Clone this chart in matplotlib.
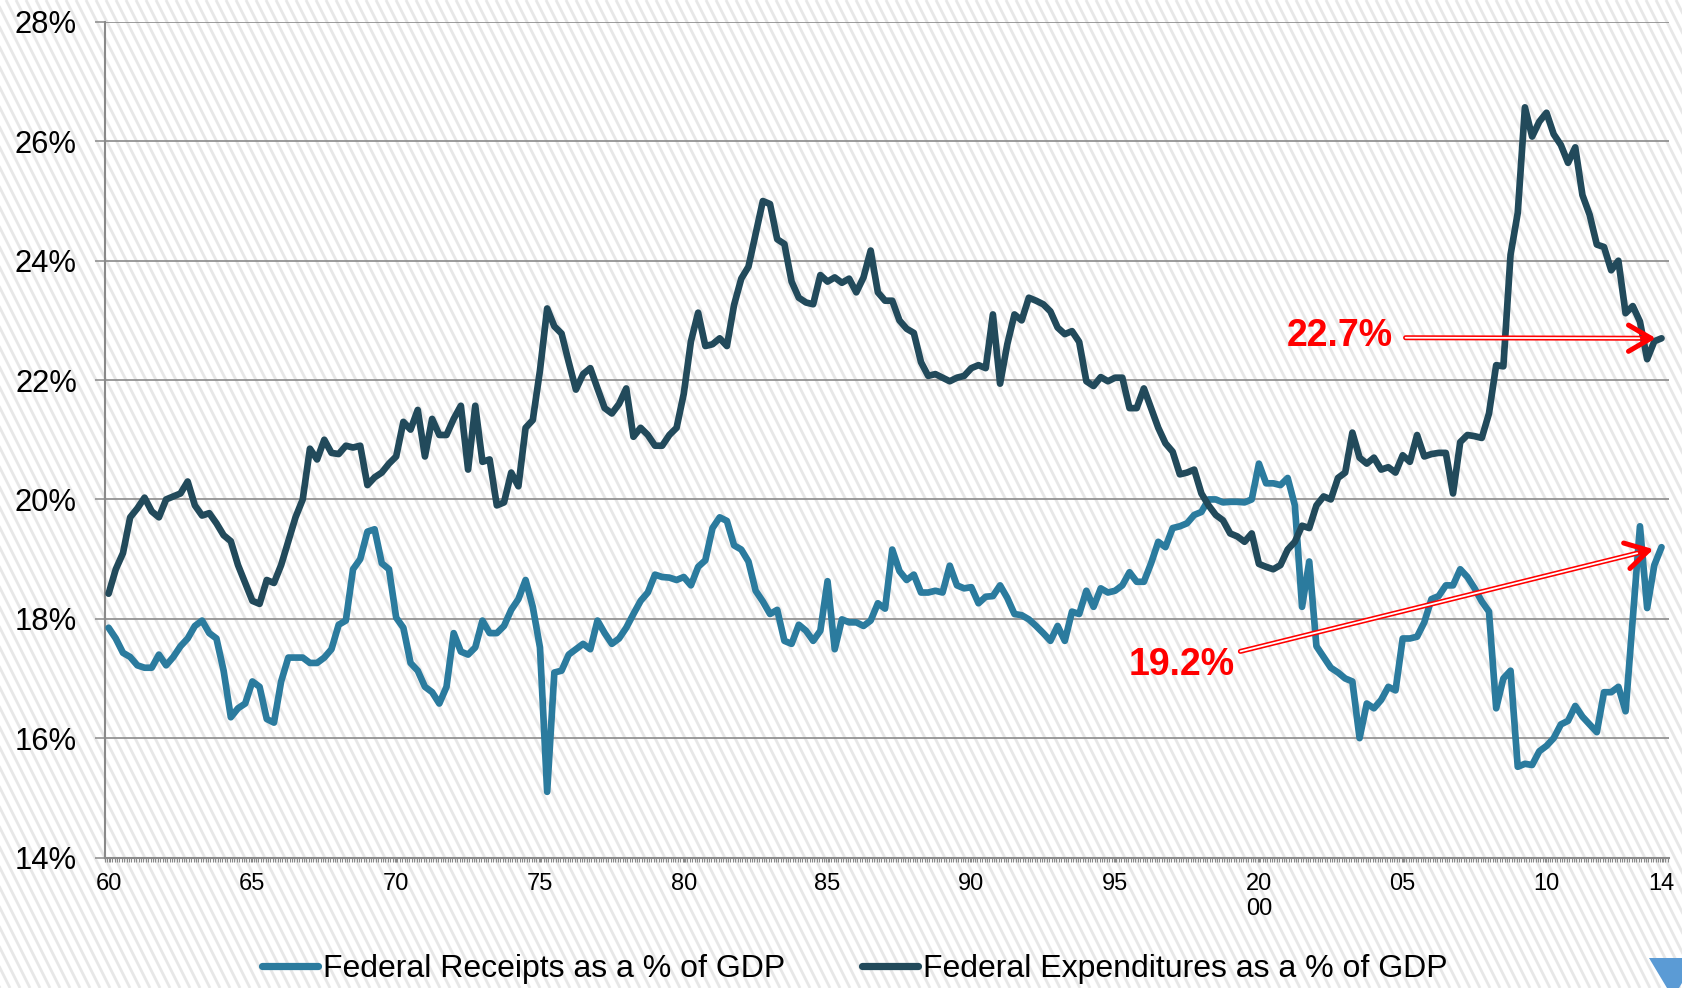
import numpy as np
import matplotlib.pyplot as plt
from matplotlib.collections import LineCollection
from matplotlib.lines import Line2D
from matplotlib.patches import Polygon
from matplotlib.ticker import FixedLocator, FuncFormatter

plt.rcParams['font.family'] = ['Liberation Sans', 'DejaVu Sans']

# quarterly series, 1960Q1 .. 2014Q1 (% of GDP)
receipts = [
    17.85, 17.67, 17.43, 17.36,  # 1960
    17.22, 17.18, 17.18, 17.40,
    17.22, 17.36, 17.54, 17.67,
    17.88, 17.97, 17.76, 17.67,
    17.13, 16.35, 16.50, 16.58,
    16.95, 16.86, 16.32, 16.26,  # 1965
    16.95, 17.35, 17.35, 17.35,
    17.26, 17.26, 17.35, 17.49,
    17.90, 17.97, 18.83, 19.00,
    19.46, 19.50, 18.93, 18.83,
    18.02, 17.85, 17.26, 17.13,  # 1970
    16.86, 16.77, 16.58, 16.86,
    17.76, 17.45, 17.40, 17.52,
    17.97, 17.76, 17.76, 17.88,
    18.15, 18.33, 18.65, 18.20,
    17.52, 15.10, 17.10, 17.13,  # 1975
    17.40, 17.49, 17.58, 17.49,
    17.97, 17.76, 17.58, 17.67,
    17.85, 18.08, 18.30, 18.44,
    18.74, 18.70, 18.69, 18.65,
    18.70, 18.56, 18.87, 18.98,  # 1980
    19.52, 19.70, 19.64, 19.23,
    19.16, 18.96, 18.47, 18.29,
    18.08, 18.15, 17.63, 17.58,
    17.90, 17.80, 17.63, 17.80,
    18.63, 17.49, 17.99, 17.94,  # 1985
    17.94, 17.88, 17.97, 18.26,
    18.17, 19.16, 18.80, 18.65,
    18.74, 18.44, 18.44, 18.47,
    18.44, 18.89, 18.56, 18.51,
    18.53, 18.26, 18.37, 18.38,  # 1990
    18.56, 18.35, 18.08, 18.06,
    17.99, 17.88, 17.76, 17.63,
    17.88, 17.63, 18.12, 18.08,
    18.47, 18.20, 18.51, 18.44,
    18.47, 18.56, 18.78, 18.62,  # 1995
    18.62, 18.93, 19.29, 19.20,
    19.52, 19.55, 19.60, 19.74,
    19.79, 20.00, 20.00, 19.95,
    19.96, 19.96, 19.95, 20.00,
    20.60, 20.27, 20.27, 20.24,  # 2000
    20.36, 19.90, 18.20, 18.96,
    17.54, 17.36, 17.18, 17.10,
    17.00, 16.95, 16.00, 16.58,
    16.50, 16.64, 16.86, 16.80,
    17.67, 17.67, 17.70, 17.94,  # 2005
    18.33, 18.38, 18.56, 18.56,
    18.83, 18.70, 18.51, 18.29,
    18.12, 16.50, 17.00, 17.13,
    15.52, 15.57, 15.55, 15.78,
    15.87, 16.00, 16.23, 16.29,  # 2010
    16.54, 16.36, 16.23, 16.10,
    16.77, 16.77, 16.86, 16.45,
    18.00, 19.55, 18.18, 18.90,
    19.20,                       # 2014
]

expenditures = [
    18.42, 18.83, 19.10, 19.70,  # 1960
    19.85, 20.03, 19.80, 19.70,
    20.00, 20.05, 20.10, 20.30,
    19.90, 19.73, 19.77, 19.60,
    19.40, 19.30, 18.90, 18.60,
    18.30, 18.25, 18.65, 18.60,  # 1965
    18.90, 19.30, 19.70, 20.00,
    20.85, 20.67, 21.00, 20.78,
    20.76, 20.90, 20.87, 20.90,
    20.24, 20.37, 20.45, 20.60,
    20.72, 21.30, 21.17, 21.50,  # 1970
    20.72, 21.35, 21.08, 21.08,
    21.35, 21.57, 20.50, 21.57,
    20.63, 20.67, 19.90, 19.95,
    20.45, 20.22, 21.20, 21.33,
    22.16, 23.20, 22.90, 22.78,  # 1975
    22.30, 21.84, 22.10, 22.20,
    21.86, 21.53, 21.44, 21.60,
    21.86, 21.05, 21.20, 21.08,
    20.90, 20.90, 21.08, 21.20,
    21.77, 22.65, 23.13, 22.57,  # 1980
    22.60, 22.70, 22.57, 23.26,
    23.70, 23.90, 24.45, 25.00,
    24.95, 24.36, 24.28, 23.65,
    23.38, 23.30, 23.27, 23.76,
    23.65, 23.72, 23.63, 23.70,  # 1985
    23.47, 23.72, 24.17, 23.47,
    23.33, 23.33, 23.00, 22.86,
    22.79, 22.30, 22.07, 22.10,
    22.04, 21.98, 22.04, 22.07,
    22.20, 22.25, 22.20, 23.10,  # 1990
    21.94, 22.60, 23.10, 23.00,
    23.38, 23.33, 23.27, 23.15,
    22.88, 22.77, 22.82, 22.64,
    21.98, 21.90, 22.05, 21.98,
    22.04, 22.04, 21.53, 21.53,  # 1995
    21.86, 21.53, 21.20, 20.94,
    20.80, 20.42, 20.45, 20.50,
    20.10, 19.90, 19.74, 19.65,
    19.43, 19.38, 19.29, 19.43,
    18.92, 18.87, 18.83, 18.90,  # 2000
    19.16, 19.29, 19.56, 19.52,
    19.90, 20.05, 20.00, 20.36,
    20.45, 21.12, 20.70, 20.60,
    20.70, 20.50, 20.54, 20.45,
    20.74, 20.63, 21.08, 20.72,  # 2005
    20.76, 20.78, 20.78, 20.10,
    20.96, 21.08, 21.06, 21.03,
    21.44, 22.25, 22.23, 24.10,
    24.80, 26.57, 26.08, 26.33,
    26.48, 26.12, 25.94, 25.64,  # 2010
    25.90, 25.10, 24.77, 24.27,
    24.23, 23.84, 24.00, 23.12,
    23.24, 22.98, 22.35, 22.65,
    22.70,                       # 2014
]

tick_years = [1960, 1965, 1970, 1975, 1980, 1985, 1990, 1995, 2000, 2005, 2010, 2014]
tick_labels = ['60', '65', '70', '75', '80', '85', '90', '95', '20\n00', '05', '10', '14']

receipts_label = 'Federal Receipts as a % of GDP'
expend_label = 'Federal Expenditures as a % of GDP'

c_receipts = '#2b7b9e'
c_expend = '#224a5b'
c_grid = '#8a8a8a'
c_note = '#ff0000'

t = 1960 + np.arange(len(receipts)) / 4.0

W, H = 1683, 988
fig = plt.figure(figsize=(W / 100, H / 100), dpi=100)
fig.patch.set_facecolor('white')

# diagonal stripe background over the whole slide
segs = []
for c in np.arange(0, W + 0.5 * H + 10, 10):
    segs.append([(c / W, 0), ((c - 0.5 * H) / W, 1)])
fig.add_artist(LineCollection(segs, colors='#e7e7e7', linewidths=2.0,
                              transform=fig.transFigure, zorder=-5))

ax = fig.add_axes([105 / W, 1 - 857.5 / H, 1564 / W, 835.5 / H])
ax.set_facecolor('none')

ax.plot(t, receipts, color=c_receipts, lw=4.8, solid_capstyle='round',
        solid_joinstyle='round', label=receipts_label, zorder=3)
ax.plot(t, expenditures, color=c_expend, lw=4.8, solid_capstyle='round',
        solid_joinstyle='round', label=expend_label, zorder=4)

ax.set_xlim(1959.875, 2014.26)
ax.set_ylim(14, 28)

ax.set_yticks(np.arange(14, 29, 2))
ax.yaxis.set_major_formatter(FuncFormatter(lambda v, _: f'{v:.0f}%'))
ax.grid(axis='y', color=c_grid, lw=1.2)
ax.set_axisbelow(True)

ax.xaxis.set_major_locator(FixedLocator(tick_years))
ax.set_xticklabels(tick_labels)
ax.xaxis.set_minor_locator(FixedLocator(np.arange(1959.875, 2014.26, 1 / 12)))

ax.tick_params(axis='y', direction='out', length=7.2, width=1.1, color=c_grid,
               labelsize=22.3, pad=13)
ax.tick_params(axis='x', which='both', direction='out', length=3, width=0.8,
               color=c_grid, labelsize=17, pad=8)

for side in ['top', 'right']:
    ax.spines[side].set_visible(False)
for side in ['left', 'bottom']:
    ax.spines[side].set_color(c_grid)
    ax.spines[side].set_linewidth(1.5)

# callouts for the latest values
t_last = t[-1]
e_last = expenditures[-1]
r_last = receipts[-1]

for y_txt, x_txt, val, rel, shA, shB in [
    (e_last + 0.04, 2002.82, e_last, (1.0, 0.45), 7, 4),
    (17.22, 1997.32, r_last, (1.0, 0.85), 2, 6),
]:
    label = f'{val:.1f}%'
    ax.annotate(label, xy=(t_last, val), xytext=(x_txt, y_txt),
                ha='center', va='center', fontsize=27, fontweight='bold',
                color=c_note, zorder=6,
                arrowprops=dict(arrowstyle='->,head_length=0.6,head_width=0.35',
                                color=c_note, lw=3.6, relpos=rel,
                                shrinkA=shA, shrinkB=shB))
    # white core turns the shaft into a double line
    ax.annotate(label, xy=(t_last, val), xytext=(x_txt, y_txt),
                ha='center', va='center', fontsize=27, fontweight='bold',
                color='none', zorder=7,
                arrowprops=dict(arrowstyle='-', color='white', lw=1.3, relpos=rel,
                                shrinkA=shA, shrinkB=shB + 12))

handles = [Line2D([], [], color=c_receipts, lw=5.2, solid_capstyle='round'),
           Line2D([], [], color=c_expend, lw=5.2, solid_capstyle='round')]
fig.legend(handles, [receipts_label, expend_label], loc='center',
           bbox_to_anchor=(0.508, 1 - 969 / H), ncol=2, frameon=False,
           fontsize=23, handlelength=1.75, handletextpad=0.15, columnspacing=2.4)

fig.add_artist(Polygon([(1649 / W, 1 - 958 / H), (1697 / W, 1 - 958 / H), (1673 / W, 1 - 998 / H)],
                       closed=True, facecolor='#5b9bd5', edgecolor='none',
                       transform=fig.transFigure, zorder=5))

fig.savefig('out.png', dpi=100)
